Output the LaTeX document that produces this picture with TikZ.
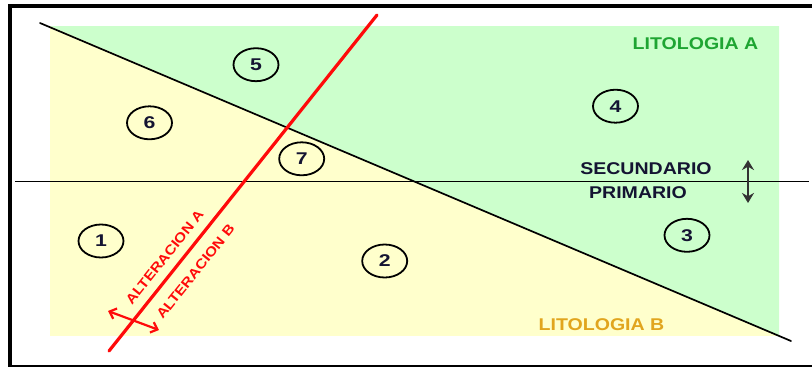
\documentclass[tikz,border=0pt]{standalone}
\usepackage{fontspec}
\setmainfont{Liberation Sans}
\usetikzlibrary{arrows.meta,shapes.geometric}
\definecolor{greenzone}{HTML}{CCFFCC}
\definecolor{yellowzone}{HTML}{FFFFCC}
\definecolor{greenlabel}{RGB}{30,165,50}
\definecolor{goldlabel}{RGB}{225,165,30}
\definecolor{navylabel}{RGB}{20,20,50}
\definecolor{faultred}{RGB}{255,10,10}
\newcommand{\xwide}[2][1.15]{\scalebox{#1}[1]{#2}}

\begin{document}
\begin{tikzpicture}[x=1pt, y=-1pt,
    zone/.style={ellipse, draw=black, line width=1.8pt, minimum width=45pt, minimum height=33pt, inner sep=0pt, font=\bfseries\fontsize{17}{19}\selectfont, text=navylabel},
    lbl/.style={font=\bfseries\fontsize{17}{20}\selectfont, inner sep=0pt},
    alt/.style={font=\bfseries\fontsize{13.5}{15}\selectfont, text=faultred, inner sep=0pt, rotate=51.4},
    arrow/.style={{Stealth[length=10pt,width=12pt]}-{Stealth[length=10pt,width=12pt]}, line width=2pt, draw=black!80}
  ]
    \useasboundingbox (0,0) rectangle (812,367);
    % zones
    \coordinate (tl) at (50,26);
    \coordinate (tr) at (779,26);
    \coordinate (br) at (779,336);
    \fill[yellowzone] (tl) rectangle (br);
    \fill[greenzone] (tl) -- (tr) -- (br) -- cycle;
    % lines
    \coordinate (h1) at (15,181.5);
    \coordinate (h2) at (809,181.5);
    \coordinate (c1) at (40,23);
    \coordinate (c2) at (791,341);
    \coordinate (f1) at (109,351);
    \coordinate (f2) at (377,15);
    \draw[line width=1.3pt] (h1) -- (h2);
    \draw[line width=1.7pt, line cap=round] (c1) -- (c2);
    \draw[faultred, line width=3.2pt, line cap=round] (f1) -- (f2);
    % arrows
    \coordinate (r1) at (108,311);
    \coordinate (r2) at (159,330);
    \coordinate (s1) at (748,160);
    \coordinate (s2) at (748,203);
    \draw[faultred, line width=2.2pt, {Straight Barb[length=6pt,width=11pt]}-{Straight Barb[length=6pt,width=11pt]}] (r1) -- (r2);
    \draw[arrow] (s1) -- (s2);
    % frame
    \draw[line width=3.5pt] (812,6) -- (10,6) -- (10,367);
    \draw[line width=2pt] (10,366) -- (812,366);
    % numbered zones
    \node[zone] (n1) at (101,241) {\xwide[1.25]{1}};
    \node[zone] (n2) at (384.7,261) {\xwide[1.25]{2}};
    \node[zone] (n3) at (687,235.3) {\xwide[1.25]{3}};
    \node[zone] (n4) at (615.5,106.2) {\xwide[1.25]{4}};
    \node[zone] (n5) at (256,64.7) {\xwide[1.25]{5}};
    \node[zone] (n6) at (149.5,122.8) {\xwide[1.25]{6}};
    \node[zone] (n7) at (301.7,158.8) {\xwide[1.25]{7}};
    % labels
    \node[lbl, text=greenlabel] (litA) at (695.5,43.5) {\xwide{LITOLOGIA A}};
    \node[lbl, text=goldlabel] (litB) at (601.5,324.5) {\xwide{LITOLOGIA B}};
    \node[lbl, text=navylabel] (sec) at (646,168.5) {\xwide{SECUNDARIO}};
    \node[lbl, text=navylabel] (pri) at (638,193) {\xwide{PRIMARIO}};
    \node[alt] (altA) at (164.6,257.3) {\xwide{ALTERACION A}};
    \node[alt] (altB) at (195.4,271.6) {\xwide{ALTERACION B}};
\end{tikzpicture}
\end{document}
